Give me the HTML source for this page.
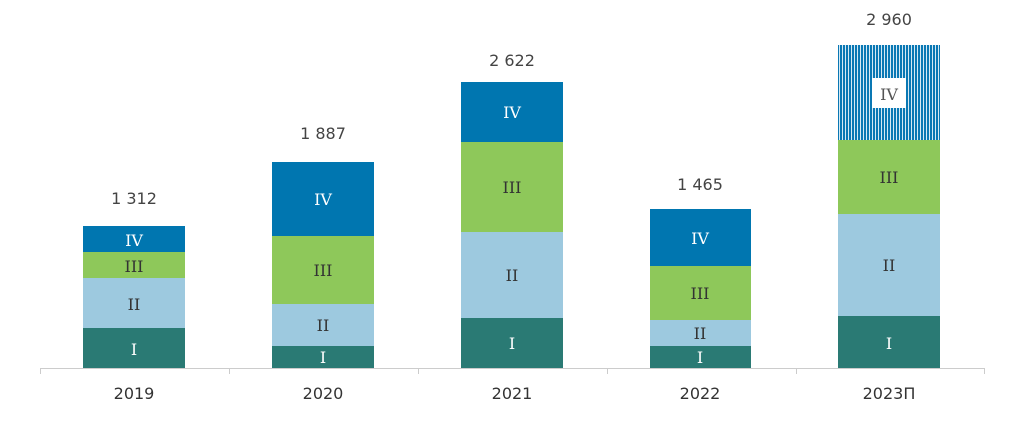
<!DOCTYPE html><html><head><style>body{margin:0;background:#fff}</style></head><body>
<svg width="1024" height="426" xmlns="http://www.w3.org/2000/svg">
<defs><pattern id="h" width="3" height="10" patternUnits="userSpaceOnUse"><rect width="3" height="10" fill="#d6e9f4"/><rect width="2" height="10" fill="#0a78b4"/></pattern></defs>
<g font-family="DejaVu Serif, Liberation Serif, serif" font-size="16" fill="#fff" text-anchor="middle">
<rect x="83" y="328" width="102" height="40" fill="#2a7a74"/><rect x="83" y="278" width="102" height="50" fill="#9dc9df"/><rect x="83" y="252" width="102" height="26" fill="#8ec85a"/><rect x="83" y="226" width="102" height="26" fill="#0076b0"/>
<text x="134" y="355">I</text><text x="134" y="310" fill="#333">II</text><text x="134" y="272" fill="#333">III</text><text x="134" y="246">IV</text>
<rect x="272" y="346" width="102" height="22" fill="#2a7a74"/><rect x="272" y="304" width="102" height="42" fill="#9dc9df"/><rect x="272" y="236" width="102" height="68" fill="#8ec85a"/><rect x="272" y="162" width="102" height="74" fill="#0076b0"/>
<text x="323" y="363">I</text><text x="323" y="331" fill="#333">II</text><text x="323" y="276" fill="#333">III</text><text x="323" y="205">IV</text>
<rect x="461" y="318" width="102" height="50" fill="#2a7a74"/><rect x="461" y="232" width="102" height="86" fill="#9dc9df"/><rect x="461" y="142" width="102" height="90" fill="#8ec85a"/><rect x="461" y="82" width="102" height="60" fill="#0076b0"/>
<text x="512" y="349">I</text><text x="512" y="281" fill="#333">II</text><text x="512" y="193" fill="#333">III</text><text x="512" y="118">IV</text>
<rect x="650" y="346" width="101" height="22" fill="#2a7a74"/><rect x="650" y="320" width="101" height="26" fill="#9dc9df"/><rect x="650" y="266" width="101" height="54" fill="#8ec85a"/><rect x="650" y="209" width="101" height="57" fill="#0076b0"/>
<text x="700" y="363">I</text><text x="700" y="339" fill="#333">II</text><text x="700" y="299" fill="#333">III</text><text x="700" y="244">IV</text>
<rect x="838" y="316" width="102" height="52" fill="#2a7a74"/><rect x="838" y="214" width="102" height="102" fill="#9dc9df"/><rect x="838" y="140" width="102" height="74" fill="#8ec85a"/><rect x="838" y="45" width="102" height="95" fill="url(#h)"/>
<rect x="872" y="78" width="34" height="30" fill="#fff"/>
<text x="889" y="349">I</text><text x="889" y="271" fill="#333">II</text><text x="889" y="183" fill="#333">III</text><text x="889" y="100" fill="#555">IV</text>
</g>
<g stroke="#ccc" stroke-width="1"><line x1="40" y1="368.5" x2="985" y2="368.5"/>
<line x1="40.5" y1="368" x2="40.5" y2="374"/><line x1="229.5" y1="368" x2="229.5" y2="374"/><line x1="418.5" y1="368" x2="418.5" y2="374"/><line x1="607.5" y1="368" x2="607.5" y2="374"/><line x1="796.5" y1="368" x2="796.5" y2="374"/><line x1="984.5" y1="368" x2="984.5" y2="374"/></g>
<g font-family="DejaVu Sans, Liberation Sans, sans-serif" font-size="16" fill="#333" text-anchor="middle">
<text x="134" y="399">2019</text><text x="323" y="399">2020</text><text x="512" y="399">2021</text><text x="700" y="399">2022</text><text x="889" y="399">2023П</text>
<text x="134" y="204" fill="#444">1 312</text><text x="323" y="139" fill="#444">1 887</text><text x="512" y="66" fill="#444">2 622</text><text x="700" y="190" fill="#444">1 465</text><text x="889" y="25" fill="#444">2 960</text>
</g></svg></body></html>
